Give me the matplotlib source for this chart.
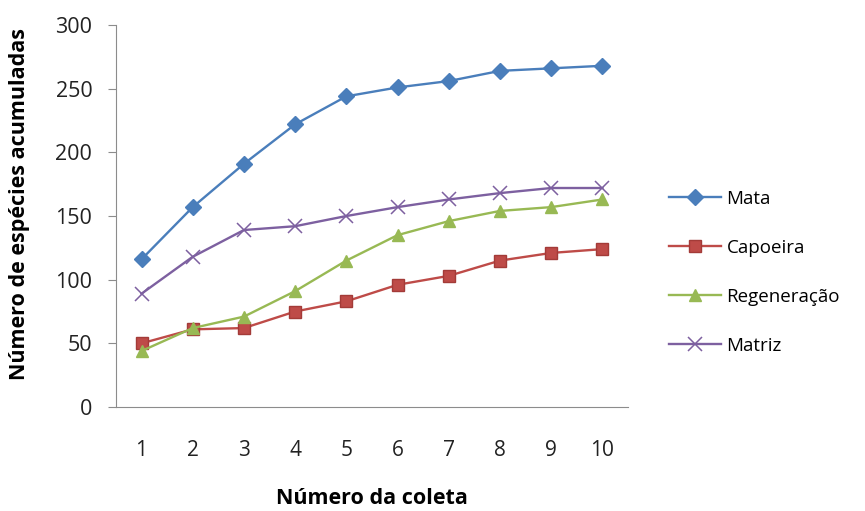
import matplotlib.pyplot as plt

# coletas e curvas de acumulacao de especies
coletas = [1, 2, 3, 4, 5, 6, 7, 8, 9, 10]
mata = [116, 157, 191, 222, 244, 251, 256, 264, 266, 268]
capoeira = [50, 61, 62, 75, 83, 96, 103, 115, 121, 124]
regeneracao = [44, 62, 71, 91, 115, 135, 146, 154, 157, 163]
matriz = [89, 118, 139, 142, 150, 157, 163, 168, 172, 172]

plt.rcParams['font.family'] = ['Open Sans', 'DejaVu Sans']

fig = plt.figure(figsize=(8.65, 5.11), dpi=100)
ax = fig.add_axes([0.134, 0.2035, 0.592, 0.7475])

ax.plot(coletas, mata, color='#4A7EBB', marker='D', markersize=8, lw=1.7, label='Mata')
ax.plot(coletas, capoeira, color='#BE4B48', marker='s', markersize=8.5, lw=1.7,
        markeredgecolor='#A33B38', label='Capoeira')
ax.plot(coletas, regeneracao, color='#98B954', marker='^', markersize=9, lw=1.7, label='Regeneração')
ax.plot(coletas, matriz, color='#7D60A0', marker='x', markersize=9.5, lw=1.7,
        markeredgewidth=1.1, label='Matriz')

ax.set_xlim(0.5, 10.5)
ax.set_ylim(0, 300)
ax.set_yticks(range(0, 301, 50))
ax.set_xticks(coletas)

for s in ['top', 'right']:
    ax.spines[s].set_visible(False)
for s in ['left', 'bottom']:
    ax.spines[s].set_color('#8C8C8C')
ax.tick_params(axis='y', direction='out', length=6, color='#8C8C8C', pad=11, labelsize=15.5, labelcolor='#222222')
ax.tick_params(axis='x', length=0, pad=24, labelsize=15, labelcolor='#222222')

ax.set_ylabel('Número de espécies acumuladas', fontsize=15.5, fontweight='bold')
ax.yaxis.set_label_coords(-0.168, 0.531)
ax.set_xlabel('Número da coleta', fontsize=15.5, fontweight='bold', labelpad=19)

ax.legend(loc='center left', bbox_to_anchor=(1.047, 0.353), frameon=False,
          fontsize=13.5, labelspacing=1.65, handlelength=2.8, handletextpad=0.27)

fig.savefig('out.png', dpi=100)
